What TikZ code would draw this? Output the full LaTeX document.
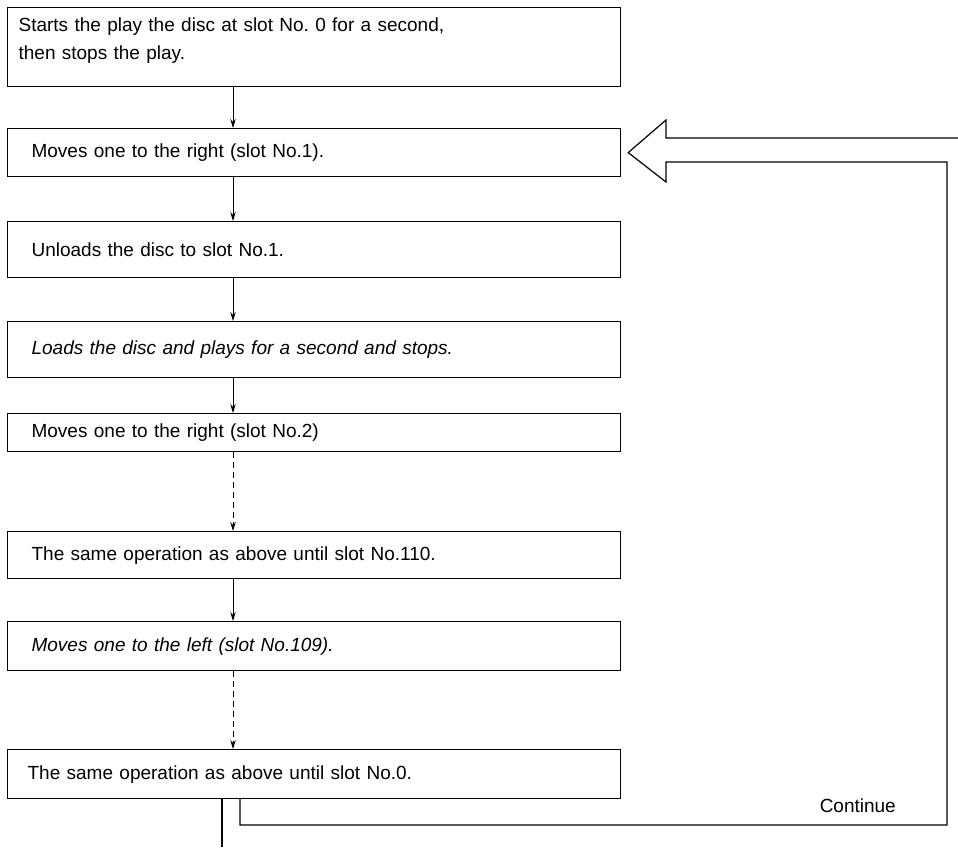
\documentclass[tikz,border=0pt]{standalone}
\usepackage{fontspec}
\setmainfont{Liberation Sans}
\usetikzlibrary{arrows.meta}
\frenchspacing
\begin{document}
\begin{tikzpicture}[x=1pt,y=-1pt,
  box/.style={draw, line width=1.2pt, anchor=north west, minimum width=613pt,
    text width=565pt, inner xsep=24pt, inner ysep=0pt, align=left,
    font=\fontsize{19}{28}\selectfont},
  ln/.style={line width=1.2pt},
  arr/.style={-{Stealth[length=9pt,width=5.5pt]}, line width=1pt},
  darr/.style={arr, dash pattern=on 6pt off 4pt}]
\useasboundingbox (0,0) rectangle (958,847);

\node[box, minimum height=79pt, inner xsep=11pt, text width=591pt] (b1) at (7,7)
  {Starts the play the disc at slot No. 0 for a second,\\then stops the play.\\[-12pt]\mbox{}};
\node[box, minimum height=48pt] (b2) at (7,128) {Moves one to the right (slot No.1).};
\node[box, minimum height=56pt] (b3) at (7,221) {Unloads the disc to slot No.1.};
\node[box, minimum height=56pt] (b4) at (7,321) {\itshape Loads the disc and plays for a second and stops.};
\node[box, minimum height=38pt] (b5) at (7,413) {Moves one to the right (slot No.2)};
\node[box, minimum height=47pt] (b6) at (7,531) {The same operation as above until slot No.110.};
\node[box, minimum height=49pt] (b7) at (7,621) {\itshape Moves one to the left (slot No.109).};
\node[box, minimum height=49pt, inner xsep=20pt, text width=573pt] (b8) at (7,749) {The same operation as above until slot No.0.};

\coordinate (col) at (233,0);
\coordinate (exitcol) at (222,0);
\coordinate (loopcol) at (240,0);
\coordinate (bot) at (222,847);

\draw[arr] (b1.south -| col) -- (b2.north -| col);
\draw[arr] (b2.south -| col) -- (b3.north -| col);
\draw[arr] (b3.south -| col) -- (b4.north -| col);
\draw[arr] (b4.south -| col) -- (b5.north -| col);
\draw[darr] (b5.south -| col) -- (b6.north -| col);
\draw[arr] (b6.south -| col) -- (b7.north -| col);
\draw[darr] (b7.south -| col) -- (b8.north -| col);

\draw[ln] (b8.south -| exitcol) -- (bot);

\coordinate (tip) at ([xshift=7pt]b2.east);
\coordinate (c1) at (947,825);
\coordinate (c2) at (947,162);
\coordinate (h1) at (666,162);
\coordinate (h2) at (666,182);
\coordinate (h3) at (666,120);
\coordinate (h4) at (666,138);
\coordinate (h5) at (958,138);
\draw[ln, line join=miter] (b8.south -| loopcol) |- (c1) -- (c2) -- (h1) -- (h2) -- (tip) -- (h3) -- (h4) -- (h5);

\node[anchor=base east, inner sep=0pt, font=\fontsize{19}{22}\selectfont] (cont) at (896,812) {Continue};
\end{tikzpicture}
\end{document}
